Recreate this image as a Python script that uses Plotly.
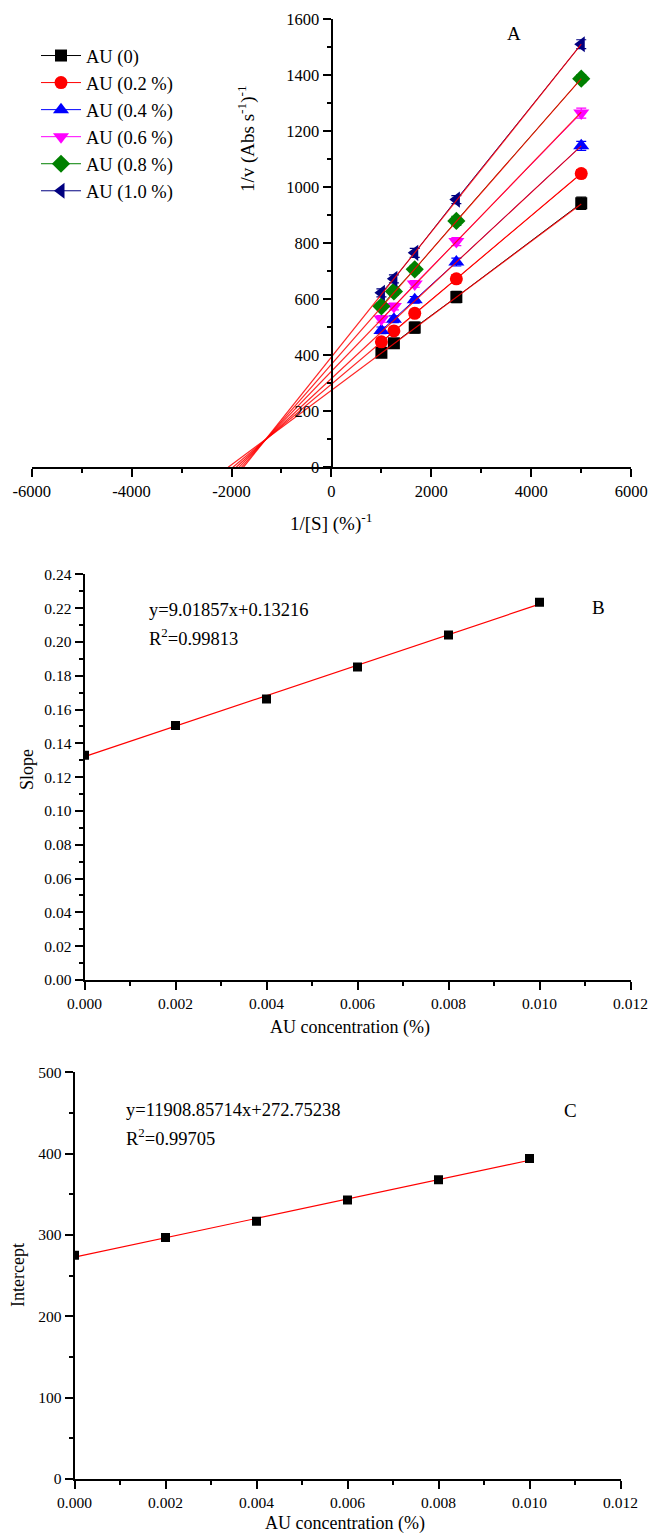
import plotly.graph_objects as go

W, H = 651, 1538
FONT = "Liberation Serif, Times New Roman, serif"

# ---------------- Panel A data (Lineweaver-Burk) ----------------
inv_S = [1000, 1250, 1667, 2500, 5000]
series_names = ["AU (0)", "AU (0.2 %)", "AU (0.4 %)", "AU (0.6 %)", "AU (0.8 %)", "AU (1.0 %)"]
v_au00 = [409, 443, 499, 608, 943]
v_au02 = [448, 487, 550, 673, 1049]
v_au04 = [489, 529, 598, 733, 1148]
v_au06 = [530, 574, 655, 806, 1265]
v_au08 = [575, 628, 707, 880, 1388]
v_au10 = [623, 673, 766, 956, 1511]
e_au00 = [14, 14, 20, 20, 22]
e_au02 = [12, 12, 14, 14, 14]
e_au04 = [12, 12, 12, 14, 16]
e_au06 = [12, 12, 12, 14, 18]
e_au08 = [12, 12, 14, 16, 14]
e_au10 = [14, 14, 16, 14, 16]
colors = ["#000000", "#FF0000", "#0000FF", "#FF00FF", "#008000", "#000080"]
symbols = ["square", "circle", "triangle-up", "triangle-down", "diamond", "triangle-left"]
msizes = [12, 13, 14, 14, 14, 14]
a_xticks = [-6000, -4000, -2000, 0, 2000, 4000, 6000]

# ---------------- Panel B / C data ----------------
au_conc = [0.0, 0.002, 0.004, 0.006, 0.008, 0.010]
slopes = [0.133, 0.1505, 0.1662, 0.1851, 0.2041, 0.2234]
intercepts = [275, 297, 317, 343, 368, 394]
fitB_a, fitB_b = 9.01857, 0.13216
fitC_a, fitC_b = 11908.85714, 272.75238


def px(x):
    return x / W


def py(y):
    return 1 - y / H


fig = go.Figure()

v_all = [v_au00, v_au02, v_au04, v_au06, v_au08, v_au10]
e_all = [e_au00, e_au02, e_au04, e_au06, e_au08, e_au10]

# data series (line + symbol)
for i in range(6):
    fig.add_trace(go.Scatter(
        x=inv_S, y=v_all[i], mode="lines+markers", name=series_names[i],
        line=dict(color=colors[i], width=1),
        marker=dict(symbol=symbols[i], size=msizes[i], color=colors[i]),
        error_y=dict(type="data", array=e_all[i], color=colors[i], thickness=1.2, width=5),
        xaxis="x", yaxis="y", cliponaxis=False,
    ))

# linear fits in panel A (from slope / intercept of panels B and C)
xmax = max(inv_S)
for i in range(6):
    x0 = -intercepts[i] / slopes[i]
    fig.add_trace(go.Scatter(
        x=[x0, xmax], y=[0, slopes[i] * xmax + intercepts[i]], mode="lines",
        line=dict(color="#FF0000", width=1.2), opacity=0.85, showlegend=False,
        hoverinfo="skip", xaxis="x", yaxis="y",
    ))

# Panel B
fig.add_trace(go.Scatter(
    x=[au_conc[0], au_conc[-1]], y=[fitB_a * au_conc[0] + fitB_b, fitB_a * au_conc[-1] + fitB_b],
    mode="lines", line=dict(color="#FF0000", width=1.2), showlegend=False,
    xaxis="x2", yaxis="y2"))
fig.add_trace(go.Scatter(
    x=au_conc, y=slopes, mode="markers", showlegend=False,
    marker=dict(symbol="square", size=9, color="black"), xaxis="x2", yaxis="y2"))

# Panel C
fig.add_trace(go.Scatter(
    x=[au_conc[0], au_conc[-1]], y=[fitC_a * au_conc[0] + fitC_b, fitC_a * au_conc[-1] + fitC_b],
    mode="lines", line=dict(color="#FF0000", width=1.2), showlegend=False,
    xaxis="x3", yaxis="y3"))
fig.add_trace(go.Scatter(
    x=au_conc, y=intercepts, mode="markers", showlegend=False,
    marker=dict(symbol="square", size=9, color="black"), xaxis="x3", yaxis="y3"))


def axis(fs, dtick, mdtick, rng, **kw):
    d = dict(
        range=rng, showline=True, linecolor="black", linewidth=2,
        ticks="outside", ticklen=8, tickwidth=1.5, tickcolor="black",
        showgrid=False, zeroline=False, dtick=dtick, tick0=0, automargin=False,
        tickfont=dict(family=FONT, size=fs, color="black"),
        minor=dict(ticks="outside", ticklen=4, tickwidth=1.5, tickcolor="black",
                   dtick=mdtick, tick0=0, showgrid=False),
    )
    d.update(kw)
    return d


fig.update_layout(
    width=W, height=H, autosize=False,
    margin=dict(l=0, r=0, t=0, b=0, autoexpand=False),
    paper_bgcolor="white", plot_bgcolor="rgba(0,0,0,0)",
    font=dict(family=FONT, color="black"),
    xaxis=axis(16.5, 2000, 1000, [-6000, 6000],
               tickmode="array", tickvals=a_xticks, ticktext=[str(t) for t in a_xticks],
               domain=[px(31.7), px(631.2)], anchor="y"),
    yaxis=axis(16.5, 200, 100, [0, 1600],
               domain=[py(467.3), py(19.3)], anchor="free", position=px(331.5)),
    xaxis2=axis(15.5, 0.002, 0.001, [0, 0.012], tickformat=".3f",
                domain=[px(84.5), px(630.5)], anchor="y2"),
    yaxis2=axis(15.5, 0.02, 0.01, [0, 0.24], tickformat=".2f",
                domain=[py(980), py(574.3)], anchor="x2"),
    xaxis3=axis(15.5, 0.002, 0.001, [0, 0.012], tickformat=".3f",
                domain=[px(74.5), px(620.5)], anchor="y3"),
    yaxis3=axis(15.5, 100, 50, [0, 500],
                domain=[py(1479), py(1072.3)], anchor="x3"),
    legend=dict(x=px(36), y=py(37), xanchor="left", yanchor="top",
                font=dict(family=FONT, size=18.5, color="black"),
                bgcolor="rgba(0,0,0,0)", itemwidth=40, tracegroupgap=0),
    showlegend=True,
)

ann = []


def text(x, y, s, size, xanchor="center", angle=0):
    ann.append(dict(x=px(x), y=py(y), xref="paper", yref="paper", text=s,
                    showarrow=False, xanchor=xanchor, yanchor="middle",
                    textangle=angle, font=dict(family=FONT, size=size, color="black")))


# Panel A texts
text(513.5, 33, "A", 19)
text(331, 522, "1/[S] (%)<sup>-1</sup>", 19)
text(247, 139, "1/v (Abs s<sup>-1</sup>)<sup>-1</sup>", 19, angle=-90)
# Panel B texts
text(146.7, 610, "y=9.01857x+0.13216", 18.5, xanchor="left")
text(146.7, 637, "R<sup>2</sup>=0.99813", 18.5, xanchor="left")
text(598, 608, "B", 19)
text(350, 1027, "AU concentration (%)", 18)
text(27, 770, "Slope", 18, angle=-90)
# Panel C texts
text(124, 1110, "y=11908.85714x+272.75238", 18.5, xanchor="left")
text(124, 1137, "R<sup>2</sup>=0.99705", 18.5, xanchor="left")
text(570, 1110, "C", 19)
text(345, 1523, "AU concentration (%)", 18)
text(18, 1275, "Intercept", 18, angle=-90)

fig.update_layout(annotations=ann)

fig.write_html("out.html")
